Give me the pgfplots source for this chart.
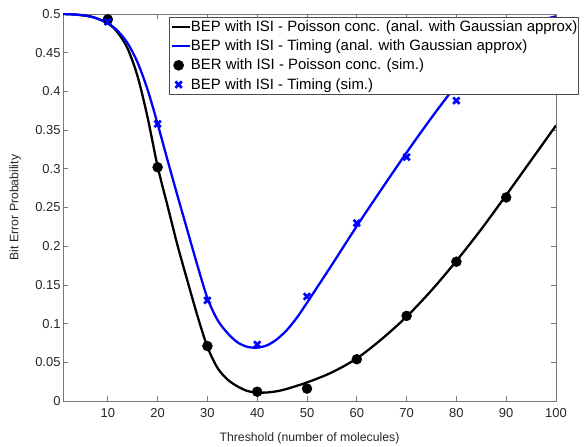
\documentclass[border=0pt]{standalone}
\usepackage{pgfplots}
\pgfplotsset{compat=1.18}
\usepackage{fontspec}
\setmainfont{Liberation Sans}
\definecolor{axgray}{RGB}{120,120,120}
\definecolor{txtgray}{RGB}{38,38,38}
\definecolor{mblue}{RGB}{0,0,255}
\newcommand{\legfont}{\fontsize{15}{17}\selectfont}
\pgfplotsset{
  lineleg/.style={legend image code/.code={\draw[##1] (0bp,0bp) -- (18bp,0bp);}},
  markleg/.style={legend image code/.code={\path (0bp,0bp) (18bp,0bp); \draw[##1] plot coordinates {(7bp,0bp)};}},
}
\begin{document}
\begin{tikzpicture}
\begin{axis}[
  scale only axis,
  width=493bp, height=387bp,
  xmin=1, xmax=100, ymin=0, ymax=0.5,
  xtick={10,20,...,100},
  ytick={0,0.05,...,0.5},
  yticklabel style={/pgf/number format/fixed,/pgf/number format/precision=2},
  /pgf/number format/assume math mode=true,
  tick align=inside,
  major tick length=5bp,
  axis line style={axgray, line width=0.8bp},
  tick style={axgray, line width=0.8bp},
  ticklabel style={font=\fontsize{13}{15}\selectfont, text=txtgray},
  xticklabel style={yshift=-4bp},
  yticklabel style={xshift=1bp},
  xlabel={Threshold (number of molecules)},
  ylabel={Bit Error Probability},
  label style={font=\fontsize{12.3}{14}\selectfont, text=txtgray},
  xlabel style={at={(axis description cs:0.5,-0.096)}, anchor=center},
  ylabel style={at={(axis description cs:-0.097,0.5)}, anchor=center},
  legend style={at={(rel axis cs:0.215,0.993)}, anchor=north west,
    draw=black!70, fill=white, line width=0.6bp,
    font=\legfont,
    inner xsep=1bp, inner ysep=2.5bp, row sep=5bp,
    nodes={inner xsep=0bp, inner ysep=1bp, font=\legfont}},
  legend cell align=left,
]
\addplot[black, line width=2.3pt, smooth, lineleg] table {
x y
1 0.500
4 0.499
7 0.496
10 0.488
12 0.476
14 0.455
16 0.419
18 0.366
20 0.303
22 0.252
24 0.201
26 0.155
28 0.110
30 0.070
32 0.043
34 0.028
36 0.019
38 0.013
40 0.011
42 0.011
45 0.014
50 0.024
55 0.037
60 0.055
65 0.080
70 0.109
75 0.143
80 0.181
85 0.222
90 0.266
95 0.311
100 0.356
};
\addlegendentry{BEP with ISI - Poisson conc. (anal. with Gaussian approx)}
\addplot[mblue, line width=2.3pt, smooth, lineleg] table {
x y
1 0.500
4 0.499
7 0.496
10 0.488
12 0.478
14 0.462
16 0.437
18 0.402
20 0.358
22 0.311
24 0.265
26 0.220
28 0.175
30 0.133
32 0.105
34 0.088
36 0.076
38 0.070
40 0.069
42 0.072
44 0.080
46 0.092
48 0.108
50 0.127
55 0.176
60 0.226
65 0.274
70 0.321
75 0.366
80 0.408
85 0.443
90 0.470
95 0.488
100 0.497
};
\addlegendentry{BEP with ISI - Timing (anal. with Gaussian approx)}
\addplot[only marks, mark=*, mark size=5bp, black, markleg] table {
x y
10 0.493
20 0.302
30 0.071
40 0.012
50 0.016
60 0.054
70 0.110
80 0.180
90 0.263
};
\addlegendentry{BER with ISI - Poisson conc. (sim.)}
\addplot[only marks, mark=x, mark size=4.5bp, mblue, line width=2.7pt, markleg] table {
x y
10 0.490
20 0.358
30 0.130
40 0.073
50 0.135
60 0.230
70 0.315
80 0.388
};
\addlegendentry{BEP with ISI - Timing (sim.)}
\end{axis}
\pgfresetboundingbox
\path[use as bounding box] ([shift={(-63bp,-45bp)}]current axis.south west) rectangle ([shift={(28bp,14bp)}]current axis.north east);
\end{tikzpicture}
\end{document}
